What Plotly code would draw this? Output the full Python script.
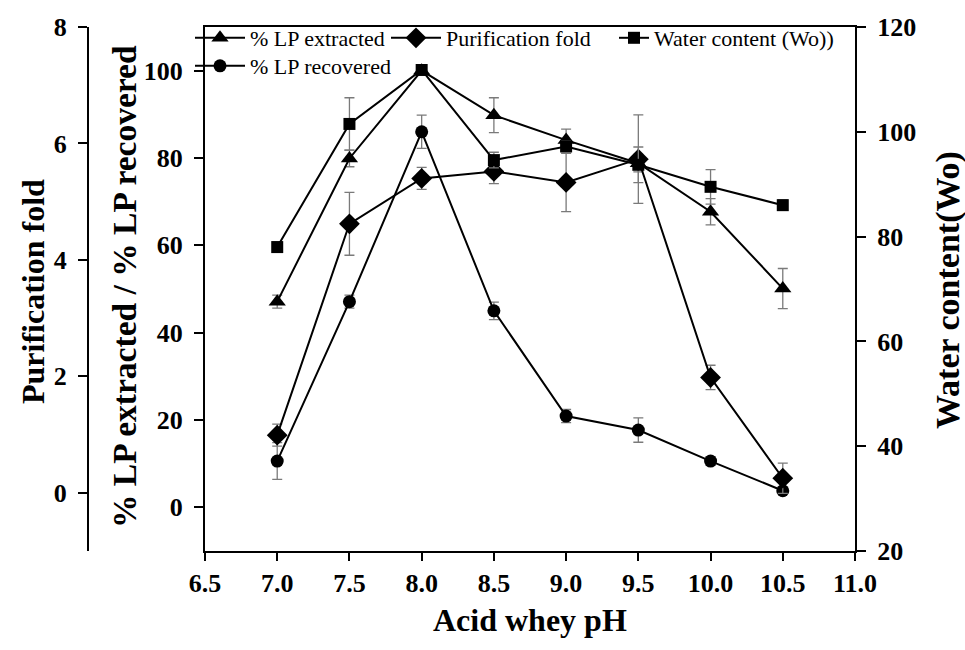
import plotly.graph_objects as go

# ---------------- data ----------------
ph = [7.0, 7.5, 8.0, 8.5, 9.0, 9.5, 10.0, 10.5]

lp_extracted = [47.1, 79.9, 100.0, 89.8, 84.1, 78.8, 67.7, 50.1]
lp_extracted_err = [1.5, 1.9, 0.0, 4.0, 2.5, 2.0, 3.0, 4.6]

lp_recovered = [10.6, 47.1, 86.0, 45.0, 20.9, 17.7, 10.6, 3.8]
lp_recovered_err = [4.2, 1.5, 3.8, 2.0, 1.5, 2.8, 1.0, 0.5]

purification_fold = [0.99, 4.62, 5.40, 5.52, 5.33, 5.73, 1.98, 0.25]
purification_fold_err = [0.19, 0.54, 0.19, 0.21, 0.50, 0.76, 0.21, 0.26]

water_content = [78.0, 101.5, 111.8, 94.6, 97.2, 93.7, 89.5, 86.0]
water_content_err = [1.0, 5.0, 0.5, 1.5, 1.0, 3.4, 3.3, 1.0]

x_ticks = [6.5, 7.0, 7.5, 8.0, 8.5, 9.0, 9.5, 10.0, 10.5, 11.0]

# ---------------- style ----------------
W, H = 965, 650
SERIF = "Liberation Serif"
TICKFONT = dict(family=SERIF, size=26, color="black", weight="bold")
TITLEFONT = dict(family=SERIF, size=32, color="black", weight="bold")
LEGFONT = dict(family=SERIF, size=22, color="black")

px_left, px_right = 205, 855
px_top, px_bottom = 27, 551
x_dom = [px_left / W, px_right / W]
y_dom = [(H - px_bottom) / H, (H - px_top) / H]

ERR = dict(type="data", color="#7a7a7a", thickness=1.3, width=5, visible=True)
LINE = dict(color="black", width=2)

fig = go.Figure()

fig.add_trace(go.Scatter(
    x=ph, y=lp_extracted, name="% LP extracted", mode="lines+markers",
    line=LINE, marker=dict(symbol="triangle-up", size=15, color="black"),
    error_y=dict(ERR, array=lp_extracted_err), yaxis="y", legend="legend"))

fig.add_trace(go.Scatter(
    x=ph, y=purification_fold, name="Purification fold", mode="lines+markers",
    line=LINE, marker=dict(symbol="diamond", size=16, color="black"),
    error_y=dict(ERR, array=purification_fold_err), yaxis="y2", legend="legend2"))

fig.add_trace(go.Scatter(
    x=ph, y=water_content, name="Water content (Wo))", mode="lines+markers",
    line=LINE, marker=dict(symbol="square", size=12, color="black"),
    error_y=dict(ERR, array=water_content_err), yaxis="y3", legend="legend3"))

fig.add_trace(go.Scatter(
    x=ph, y=lp_recovered, name="% LP recovered", mode="lines+markers",
    line=LINE, marker=dict(symbol="circle", size=13, color="black"),
    error_y=dict(ERR, array=lp_recovered_err), yaxis="y", legend="legend4"))

axis_common = dict(
    showline=True, linecolor="black", linewidth=2, showgrid=False, zeroline=False,
    ticks="outside", ticklen=9, tickwidth=2, tickcolor="black", tickfont=TICKFONT,
    automargin=False,
)

leg_common = dict(font=LEGFONT, bgcolor="rgba(0,0,0,0)", borderwidth=0,
                  xanchor="left", yanchor="middle", itemwidth=50, orientation="h")

fig.update_layout(
    width=W, height=H,
    margin=dict(l=0, r=0, t=0, b=0, autoexpand=False),
    paper_bgcolor="white", plot_bgcolor="white",
    xaxis=dict(axis_common, domain=x_dom, range=[6.5, 11.0], tickvals=x_ticks,
               tickformat=".1f", mirror=True, ticklen=8, ticklabelstandoff=0),
    yaxis=dict(axis_common, domain=y_dom, range=[-10, 110], tickvals=[0, 20, 40, 60, 80, 100],
               anchor="x", side="left", ticklabelstandoff=6),
    yaxis2=dict(axis_common, range=[-1, 8], tickvals=[0, 2, 4, 6, 8], overlaying="y",
                anchor="free", side="left", position=88 / W, ticklabelstandoff=6),
    yaxis3=dict(axis_common, range=[20, 120], tickvals=[20, 40, 60, 80, 100, 120],
                overlaying="y", anchor="x", side="right", ticklabelstandoff=6),
    legend=dict(leg_common, x=190 / W, y=1 - 38 / H),
    legend2=dict(leg_common, x=386 / W, y=1 - 38 / H),
    legend3=dict(leg_common, x=614 / W, y=1 - 38 / H, itemwidth=30),
    legend4=dict(leg_common, x=190 / W, y=1 - 66 / H),
    showlegend=True,
)

fig.add_annotation(text="Acid whey pH", x=(px_left + px_right) / 2 / W, y=1 - 620 / H,
                   xref="paper", yref="paper", showarrow=False, font=TITLEFONT,
                   xanchor="center", yanchor="middle")
fig.add_annotation(text="Purification fold", x=33 / W, y=1 - 292 / H, textangle=-90,
                   xref="paper", yref="paper", showarrow=False, font=TITLEFONT,
                   xanchor="center", yanchor="middle")
fig.add_annotation(text="% LP extracted / % LP recovered", x=125 / W, y=1 - 286 / H,
                   textangle=-90, xref="paper", yref="paper", showarrow=False,
                   font=dict(TITLEFONT, size=33.5), xanchor="center", yanchor="middle")
fig.add_annotation(text="Water content(Wo)", x=948 / W, y=1 - 290 / H, textangle=-90,
                   xref="paper", yref="paper", showarrow=False,
                   font=dict(TITLEFONT, size=34), xanchor="center", yanchor="middle")

fig.write_html("out.html")
